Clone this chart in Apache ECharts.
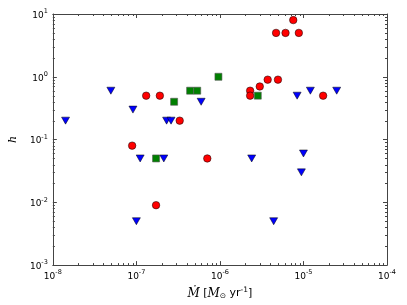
<!DOCTYPE html>
<html>
<head>
<meta charset="utf-8">
<script src="https://cdn.jsdelivr.net/npm/echarts@6/dist/echarts.min.js"></script>
<style>html,body{margin:0;padding:0;background:#fff;}#c{width:407px;height:305px;}</style>
</head>
<body>
<div id="c"></div>
<script>
// Data
const redX = [7.55e-6, 4.7e-6, 6.1e-6, 8.8e-6, 1.31e-7, 1.91e-7, 3.3e-7, 8.9e-8, 7.06e-7, 1.72e-7, 2.3e-6, 2.3e-6, 3.0e-6, 3.73e-6, 4.95e-6, 1.72e-5];
const redY = [8.0, 5.0, 5.0, 5.0, 0.5, 0.5, 0.2, 0.08, 0.05, 0.009, 0.6, 0.5, 0.7, 0.9, 0.9, 0.5];
const greenX = [9.6e-7, 4.4e-7, 5.35e-7, 2.83e-7, 1.72e-7, 2.84e-6];
const greenY = [1.0, 0.6, 0.6, 0.4, 0.05, 0.5];
const blueX = [1.42e-8, 4.95e-8, 9.1e-8, 2.3e-7, 2.6e-7, 5.96e-7, 1.11e-7, 2.13e-7, 1.0e-7, 2.4e-6, 4.4e-6, 8.4e-6, 1.21e-5, 2.5e-5, 1.0e-5, 9.45e-6];
const blueY = [0.2, 0.6, 0.3, 0.2, 0.2, 0.4, 0.05, 0.05, 0.005, 0.05, 0.005, 0.5, 0.6, 0.6, 0.06, 0.03];
const xExpMin = -8, xExpMax = -4;
const yExpMin = -3, yExpMax = 1;

// Minor tick positions (2..9 within each decade)
const xMinor = [], yMinor = [];
for (let e = xExpMin; e < xExpMax; e++) for (let k = 2; k <= 9; k++) xMinor.push(k * Math.pow(10, e));
for (let e = yExpMin; e < yExpMax; e++) for (let k = 2; k <= 9; k++) yMinor.push(k * Math.pow(10, e));

const zip = (a, b) => a.map((v, i) => [v, b[i]]);
const AX = '#444';
const tickFmt = v => {
  const e = Math.round(Math.log10(v));
  return '{b|10}{s|' + (e < 0 ? '-' : '') + Math.abs(e) + '}';
};
const labelRich = {
  b: { fontSize: 9, lineHeight: 12, fontFamily: 'DejaVu Sans', color: '#000', verticalAlign: 'bottom' },
  s: { fontSize: 6.5, lineHeight: 7, fontFamily: 'DejaVu Sans', color: '#000', verticalAlign: 'top' }
};
function axisCommon(min, max) {
  return {
    type: 'log', logBase: 10, min: min, max: max,
    splitLine: { show: false },
    axisLine: { show: true, lineStyle: { color: AX, width: 1 } },
    axisTick: { show: true, inside: true, length: 4, lineStyle: { color: AX, width: 1 } },
    minorTick: { show: false }
  };
}

const chart = echarts.init(document.getElementById('c'), null, { renderer: 'canvas' });
const xMin = Math.pow(10, xExpMin), xMax = Math.pow(10, xExpMax);
const yMin = Math.pow(10, yExpMin), yMax = Math.pow(10, yExpMax);

function minorRender(isX) {
  return function (params, api) {
    const cs = params.coordSys;
    const p = api.coord([api.value(0), api.value(1)]);
    const st = { stroke: AX, lineWidth: 1 };
    if (isX) {
      const x = Math.round(p[0]) + 0.5;
      return { type: 'group', children: [
        { type: 'line', shape: { x1: x, y1: cs.y + cs.height, x2: x, y2: cs.y + cs.height - 2 }, style: st },
        { type: 'line', shape: { x1: x, y1: cs.y, x2: x, y2: cs.y + 2 }, style: st }
      ] };
    } else {
      const y = Math.round(p[1]) + 0.5;
      return { type: 'group', children: [
        { type: 'line', shape: { x1: cs.x, y1: y, x2: cs.x + 2, y2: y }, style: st },
        { type: 'line', shape: { x1: cs.x + cs.width, y1: y, x2: cs.x + cs.width - 2, y2: y }, style: st }
      ] };
    }
  };
}

const option = {
  backgroundColor: '#fff',
  animation: false,
  grid: { left: 44, right: 20, top: 14, bottom: 38 },
  xAxis: [
    Object.assign(axisCommon(xMin, xMax), {
      position: 'bottom',
      axisLabel: { show: true, margin: 4, formatter: tickFmt, rich: labelRich, showMinLabel: true, showMaxLabel: true },
      name: '{i|Ṁ} [{i|M}{sub|⊙} yr{sup|-1}]',
      nameLocation: 'middle', nameGap: 16,
      nameTextStyle: {
        fontSize: 11, fontFamily: 'DejaVu Sans', color: '#000',
        rich: {
          i: { fontSize: 12, fontFamily: 'DejaVu Serif', fontStyle: 'italic', color: '#000', verticalAlign: 'bottom', lineHeight: 14 },
          sub: { fontSize: 7.5, fontFamily: 'DejaVu Sans', color: '#000', verticalAlign: 'bottom', lineHeight: 9 },
          sup: { fontSize: 7.5, fontFamily: 'DejaVu Sans', color: '#000', verticalAlign: 'top', lineHeight: 8 }
        }
      }
    }),
    Object.assign(axisCommon(xMin, xMax), { position: 'top', axisLabel: { show: false } })
  ],
  yAxis: [
    Object.assign(axisCommon(yMin, yMax), {
      position: 'left',
      axisLabel: { show: true, margin: 5, formatter: tickFmt, rich: labelRich, showMinLabel: true, showMaxLabel: true },
      name: 'h', nameLocation: 'middle', nameGap: 31,
      nameTextStyle: { fontSize: 11, fontFamily: 'DejaVu Serif', fontStyle: 'italic', color: '#000' }
    }),
    Object.assign(axisCommon(yMin, yMax), { position: 'right', axisLabel: { show: false } })
  ],
  series: [
    { type: 'custom', silent: true, clip: false, renderItem: minorRender(true), data: xMinor.map(v => [v, 1]), z: 1 },
    { type: 'custom', silent: true, clip: false, renderItem: minorRender(false), data: yMinor.map(v => [1e-6, v]), z: 1 },
    { type: 'scatter', name: 'red', data: zip(redX, redY), symbol: 'circle', symbolSize: 7.5,
      itemStyle: { color: '#ff0000', borderColor: '#000', borderWidth: 0.5, opacity: 1 }, z: 3 },
    { type: 'scatter', name: 'green', data: zip(greenX, greenY), symbol: 'rect', symbolSize: 7,
      itemStyle: { color: '#008000', borderColor: '#555', borderWidth: 0.6, opacity: 1 }, z: 4 },
    { type: 'scatter', name: 'blue', data: zip(blueX, blueY), symbol: 'triangle', symbolRotate: 180, symbolSize: [8, 7],
      itemStyle: { color: '#0000ff', borderColor: '#000', borderWidth: 0.5, opacity: 1 }, z: 5 }
  ]
};
chart.setOption(option);
</script>
</body>
</html>
